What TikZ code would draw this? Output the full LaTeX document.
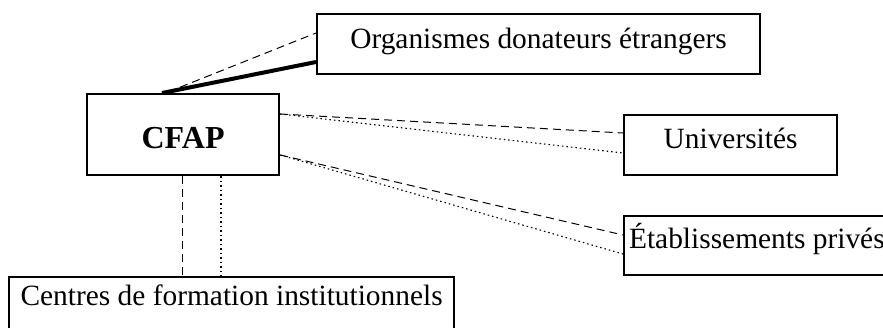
\documentclass[tikz,border=0pt]{standalone}
\usepackage{fontspec}
\setmainfont{Liberation Serif}
\usetikzlibrary{calc}
\begin{document}
\begin{tikzpicture}[x=1pt,y=-1pt,
 box/.style={draw, line width=2.2pt, inner sep=0pt, anchor=north west, font=\fontsize{29.4}{34}\selectfont},
 dashline/.style={line width=1pt, dash pattern=on 8pt off 5pt},
 dotline/.style={line width=1.1pt, dash pattern=on 1.5pt off 3pt},
 thickline/.style={line width=4pt}]
\useasboundingbox (0,0) rectangle (883,327);
\clip (0,0) rectangle (883,327);

\node[box, minimum width=443pt, text height=34pt, text depth=26pt] (org) at (316,13) {Organismes donateurs étrangers};
\node[box, minimum width=192pt, text height=54pt, text depth=27pt, font=\fontsize{32}{36}\selectfont\bfseries] (cfap) at (86,93) {CFAP};
\node[box, minimum width=213pt, text height=33pt, text depth=27pt] (univ) at (623,114) {Universités};
\node[box, text height=32pt, text depth=27pt] (etab) at (623,215) {\makebox[290pt][l]{\hspace{5pt}Établissements privés}};
\node[box, minimum width=445pt, text height=28pt, text depth=40pt] (cent) at (8,276) {Centres de formation institutionnels};

\draw[thickline] ($(cfap.north west)+(76,0)$) -- ($(org.north west)+(0,49)$);
\draw[dashline] ($(cfap.north west)+(82,-1)$) -- ($(org.north west)+(0,20)$);

\draw[dashline] ($(cfap.north east)+(0,21)$) -- ($(univ.north west)+(0,19)$);
\draw[dotline] ($(cfap.north east)+(0,21)$) -- ($(univ.north west)+(0,39)$);

\draw[dashline] ($(cfap.north east)+(0,62)$) -- ($(etab.north west)+(0,20)$);
\draw[dotline] ($(cfap.north east)+(0,62)$) -- ($(etab.north west)+(0,39)$);

\draw[dashline] ($(cfap.south west)+(96,0)$) -- ($(cent.north west)+(174,0)$);
\draw[dotline] ($(cfap.south west)+(135,0)$) -- ($(cent.north west)+(213,0)$);
\end{tikzpicture}
\end{document}
